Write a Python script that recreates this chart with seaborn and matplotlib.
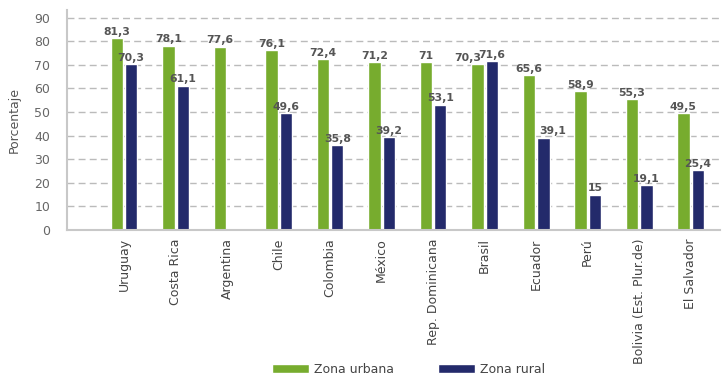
import matplotlib
matplotlib.use("Agg")
import matplotlib.pyplot as plt
import seaborn as sns
import pandas as pd
import numpy as np
from matplotlib import font_manager

countries = ["Uruguay", "Costa Rica", "Argentina", "Chile", "Colombia", "México",
             "Rep. Dominicana", "Brasil", "Ecuador", "Perú", "Bolivia (Est. Plur.de)", "El Salvador"]
urbana = [81.3, 78.1, 77.6, 76.1, 72.4, 71.2, 71.0, 70.3, 65.6, 58.9, 55.3, 49.5]
rural = [70.3, 61.1, np.nan, 49.6, 35.8, 39.2, 53.1, 71.6, 39.1, 15.0, 19.1, 25.4]
series = ["Zona urbana", "Zona rural"]
yticks = [0, 10, 20, 30, 40, 50, 60, 70, 80, 90]

def fmt(v):
    s = f"{v:.1f}".replace(".", ",")
    if s.endswith(",0"):
        s = s[:-2]
    return s

df = pd.DataFrame({
    "País": countries * 2,
    "Zona": [series[0]] * len(countries) + [series[1]] * len(countries),
    "Valor": urbana + rural,
})

sns.set_style("white")
plt.rcParams['font.family'] = ['DejaVu Sans']

names = {f.name for f in font_manager.fontManager.ttflist}
legend_font = "Liberation Sans Narrow" if "Liberation Sans Narrow" in names else "DejaVu Sans"

fig = plt.figure(figsize=(7.27, 3.83), dpi=100)
ax = fig.add_axes([67/727, (383-230)/383, (720-67)/727, 220/383])

palette = {"Zona urbana": "#77AC2E", "Zona rural": "#232A6B"}
sns.barplot(data=df, x="País", y="Valor", hue="Zona", hue_order=series,
            order=countries, palette=palette, width=0.56, gap=0.14,
            saturation=1, ax=ax, legend=False)

# categories where the two labels sit at nearly the same height
close = [(not np.isnan(r)) and abs(u - r) < 4 for u, r in zip(urbana, rural)]

for k, cont in enumerate(ax.containers):
    for i, bar in enumerate(cont):
        if bar is None:
            continue
        h = bar.get_height()
        if np.isnan(h):
            continue
        x0, w = bar.get_x(), bar.get_width()
        dx = 0
        if close[i]:
            if k == 0:
                x, ha, dx = x0 + w, "right", -1.5
            else:
                x, ha, dx = x0, "left", 1.5
        else:
            x, ha = x0 + w / 2, "center"
        ax.annotate(fmt(h), (x, h), xytext=(dx, 1), textcoords="offset points",
                    ha=ha, va="bottom", fontsize=7.8,
                    color="#555555", fontweight="bold")

ax.set_ylim(0, 93.2)
ax.set_xlim(-1.107, 11.57)
ax.set_yticks(yticks)
ax.yaxis.grid(True, linestyle=(0, (5, 3)), color="#BBBBBB", linewidth=1)
ax.set_axisbelow(True)
ax.tick_params(axis="y", labelsize=9, colors="#666666", length=0, pad=12)
ax.tick_params(axis="x", labelsize=9, colors="#444444", length=0, pad=6)
plt.setp(ax.get_xticklabels(), rotation=90)
for lab in ax.get_xticklabels():
    lab.set_ha("center")
ax.set_xlabel("")
ax.set_ylabel("Porcentaje", fontsize=9, color="#555555", labelpad=10)
for s in ["top", "right"]:
    ax.spines[s].set_visible(False)
for s in ["left", "bottom"]:
    ax.spines[s].set_color("#C8C8C8")
    ax.spines[s].set_linewidth(1.5)

from matplotlib.patches import Patch
handles = [Patch(facecolor=palette[s], label=s) for s in series]
fig.legend(handles=handles, loc="lower center", bbox_to_anchor=(0.562, -0.01), ncol=2,
           frameon=False, prop={"family": legend_font, "size": 9},
           handlelength=3.0, handleheight=0.7,
           columnspacing=3.5, handletextpad=0.4, labelcolor="#444444")

fig.savefig("out.png", dpi=100)
